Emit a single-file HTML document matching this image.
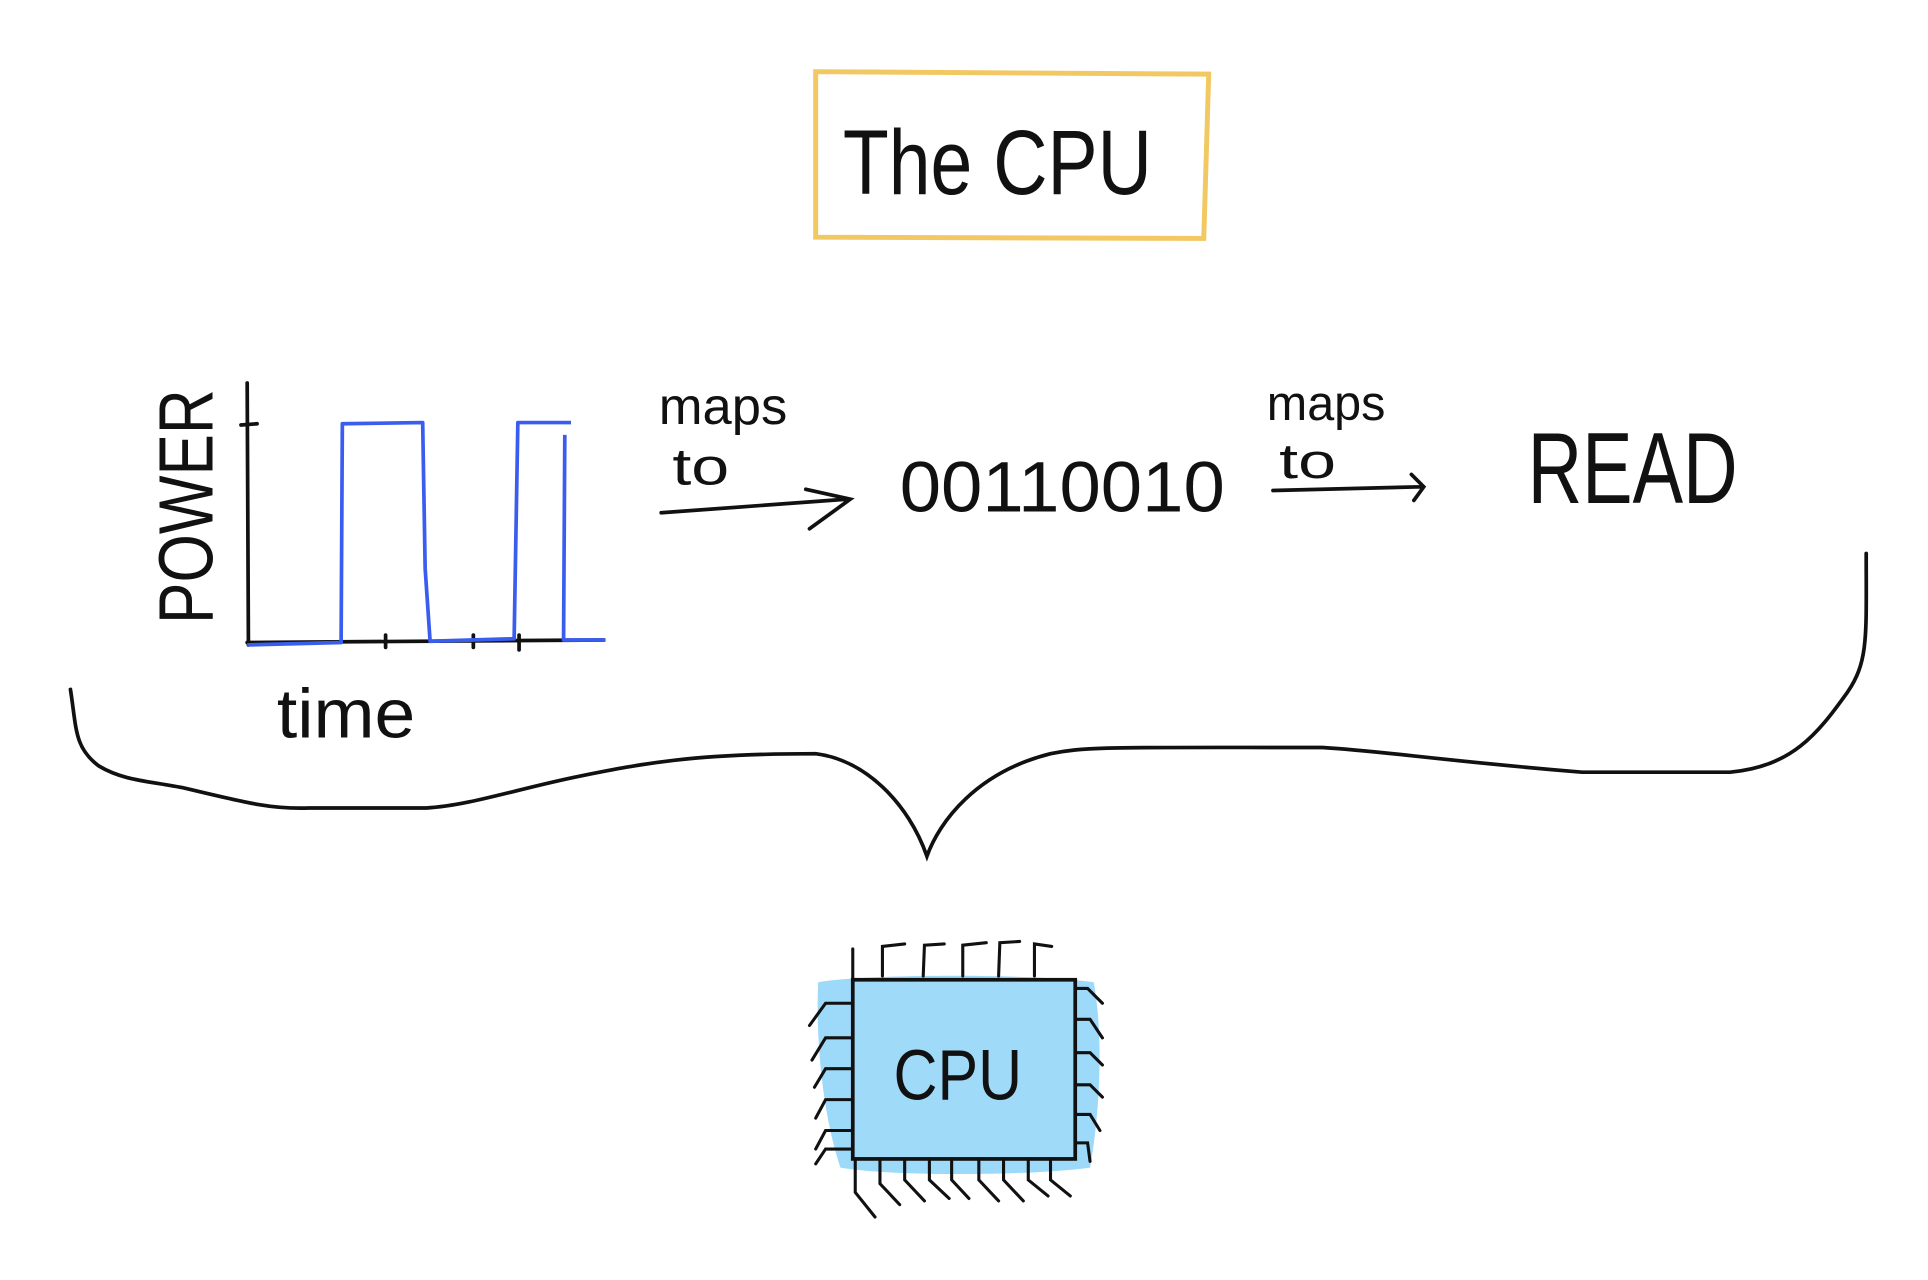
<!DOCTYPE html>
<html><head><meta charset="utf-8"><style>
html,body{margin:0;padding:0;background:#fff;width:1928px;height:1280px;overflow:hidden}
svg{display:block}
text{font-family:"Liberation Sans",sans-serif;fill:#111}
</style></head><body>
<svg width="1928" height="1280" viewBox="0 0 1560 1036" preserveAspectRatio="none" xmlns="http://www.w3.org/2000/svg">
<rect x="0" y="0" width="1560" height="1036" fill="#fff"/>
<!-- title box -->
<path d="M660 58 L978 60 L974 193 L660 192 Z" fill="none" stroke="#f1c862" stroke-width="4"/>
<text x="682" y="157" font-size="74" textLength="250" lengthAdjust="spacingAndGlyphs" font-weight="300">The CPU</text>
<!-- graph -->
<g stroke="#111" stroke-width="3" fill="none" stroke-linecap="round">
<path d="M200 310 L201 522"/>
<path d="M200 520 L488 518"/>
<path d="M195 344 L208 343"/>
<path d="M312 514 L312 524 M383 514 L383 524 M420 514 L420 526"/>
</g>
<path d="M200 522 L276 520 L277 343 L342 342 L344 460 L348 519 L416 517 L419 342 L462 342 M457 352 L456 518 L490 518" fill="none" stroke="#3a5df0" stroke-width="3" stroke-linejoin="round"/>
<text transform="translate(172 505) rotate(-90)" font-size="62" textLength="190" lengthAdjust="spacingAndGlyphs">POWER</text>
<text x="224" y="597" font-size="56" textLength="112" lengthAdjust="spacingAndGlyphs">time</text>
<!-- arrows -->
<text x="533" y="343" font-size="42" textLength="104" lengthAdjust="spacingAndGlyphs">maps</text>
<text x="544" y="392" font-size="42" textLength="46" lengthAdjust="spacingAndGlyphs">to</text>
<path d="M535 415 L686 404 M652 396 L688 404 L655 428" fill="none" stroke="#111" stroke-width="3" stroke-linecap="round"/>
<text x="728" y="414" font-size="58" textLength="263" lengthAdjust="spacingAndGlyphs">00110010</text>
<text x="1025" y="340" font-size="40" textLength="96" lengthAdjust="spacingAndGlyphs">maps</text>
<text x="1035" y="387" font-size="40" textLength="46" lengthAdjust="spacingAndGlyphs">to</text>
<path d="M1030 397 L1150 394 M1142 384 L1152 394 L1144 405" fill="none" stroke="#111" stroke-width="3" stroke-linecap="round"/>
<text x="1236" y="407" font-size="82" textLength="170" lengthAdjust="spacingAndGlyphs">READ</text>
<!-- brace -->
<path d="M57 558 C62 590 60 605 80 620 C100 632 120 632 150 638 C200 650 220 655 250 654 L345 654 C380 652 420 638 470 628 C520 618 560 610 660 610 C700 615 735 650 750 693 C760 665 790 625 850 610 C880 604 900 605 1070 605 C1120 608 1160 615 1280 625 L1400 625 C1450 620 1470 595 1495 560 C1512 535 1510 515 1510 448" fill="none" stroke="#111" stroke-width="3" stroke-linecap="round"/>
<!-- chip -->
<path d="M662 795 C700 788 840 788 885 795 C893 840 890 900 882 945 C830 952 720 952 680 945 C665 900 660 840 662 795 Z" fill="#9dd9f9"/>
<rect x="690" y="793" width="180" height="145" fill="#a0daf9" stroke="#111" stroke-width="3"/>
<text x="723" y="890" font-size="58" textLength="104" lengthAdjust="spacingAndGlyphs">CPU</text>
<g stroke="#111" stroke-width="2.5" fill="none" stroke-linecap="round">
<path d="M690 768 L690 793 M714 790 L714 766 L732 764 M747 790 L748 765 L764 764 M779 790 L779 765 L798 763 M808 790 L809 763 L825 762 M837 790 L837 764 L851 766"/>
<path d="M688 812 L668 812 L655 830 M688 840 L668 840 L657 858 M688 865 L668 865 L659 880 M688 890 L668 890 L660 905 M688 915 L668 915 L660 930 M688 930 L668 930 L660 942"/>
<path d="M870 800 L880 800 L892 812 M870 825 L882 825 L892 840 M870 852 L882 852 L892 862 M870 878 L882 878 L892 888 M870 902 L882 902 L890 915 M870 925 L880 925 L882 940"/>
<path d="M692 938 L692 965 L708 985 M712 938 L712 958 L728 975 M732 938 L732 955 L748 972 M752 938 L752 955 L768 970 M770 938 L770 955 L784 970 M792 938 L792 955 L808 972 M812 938 L812 955 L828 972 M832 938 L832 955 L848 968 M850 938 L850 955 L866 968"/>
</g>
</svg>
</body></html>
